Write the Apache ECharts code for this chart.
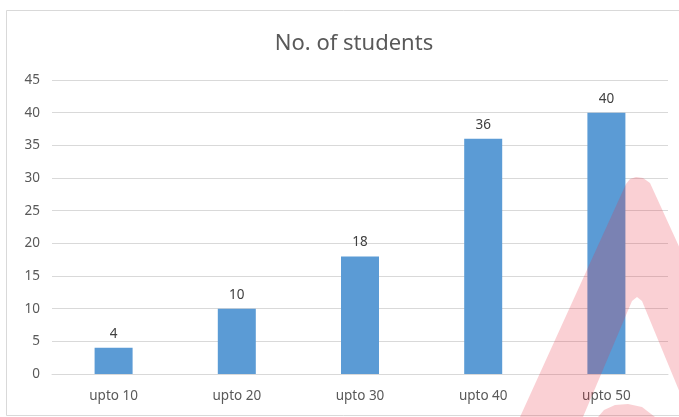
<!DOCTYPE html>
<html>
<head>
<meta charset="utf-8">
<script src="https://cdn.jsdelivr.net/npm/echarts@6/dist/echarts.min.js"></script>
<style>html,body{margin:0;padding:0;background:#fff}#c{width:679px;height:417px}</style>
</head>
<body>
<div id="c"></div>
<script>
const categories = ['upto 10', 'upto 20', 'upto 30', 'upto 40', 'upto 50'];
const students = [4, 10, 18, 36, 40];
const titleText = 'No. of students';

const chart = echarts.init(document.getElementById('c'), null, {renderer: 'canvas'});
const font = 'Noto Sans';
chart.setOption({
  animation: false,
  backgroundColor: '#ffffff',
  title: {
    text: titleText,
    left: 349, top: 28, textAlign: 'center',
    textStyle: {fontFamily: font, fontSize: 22, fontWeight: 'normal', color: '#595959'}
  },
  grid: {left: 52, right: 11, top: 80, bottom: 43},
  xAxis: {
    type: 'category',
    data: categories,
    axisLine: {show: true, lineStyle: {color: '#d9d9d9', width: 1}},
    axisTick: {show: false},
    axisLabel: {fontFamily: font, fontSize: 13.5, color: '#595959', margin: 15}
  },
  yAxis: {
    type: 'value',
    min: 0, max: 45, interval: 5,
    axisLine: {show: false},
    axisTick: {show: false},
    splitLine: {lineStyle: {color: '#d9d9d9', width: 1}},
    axisLabel: {fontFamily: font, fontSize: 13.5, color: '#595959', margin: 12}
  },
  series: [{
    type: 'bar',
    data: students,
    barWidth: 38,
    itemStyle: {color: '#5B9BD5'},
    label: {show: true, position: 'top', distance: 7, fontFamily: font, fontSize: 13.5, color: '#404040'}
  }],
  graphic: [
    {type: 'rect', shape: {x: 6.5, y: 10.5, width: 690, height: 405}, style: {fill: 'none', stroke: '#d9d9d9', lineWidth: 1}, z: 0, silent: true},
    {type: 'polygon', shape: {points: [[520,417],[626,184],[630,179],[636,177],[643,178],[650,183],[757,417],[690,417],[642,301],[637,297],[632,301],[583,417]]},
     style: {fill: 'rgba(230,40,60,0.22)'}, z: 100, silent: true},
    {type: 'polygon', shape: {points: [[598,417],[604,410],[615,405],[628,404],[642,407],[655,417]]},
     style: {fill: 'rgba(230,40,60,0.22)'}, z: 100, silent: true}
  ]
});
</script>
</body>
</html>
